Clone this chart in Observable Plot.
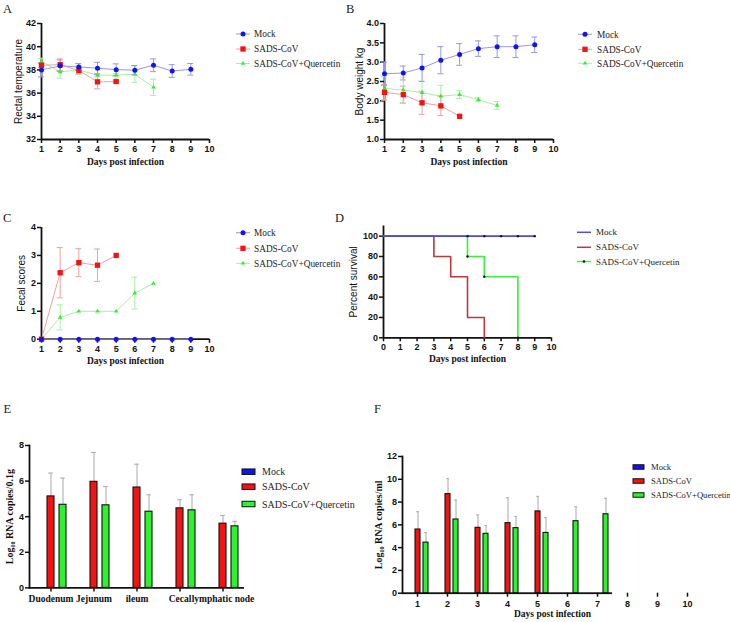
<!DOCTYPE html>
<html><head><meta charset="utf-8">
<script src="https://cdn.jsdelivr.net/npm/d3@7"></script>
<script src="https://cdn.jsdelivr.net/npm/@observablehq/plot@0.6"></script>
<style>
body{margin:0;background:#fff;overflow:hidden}
#fig{position:relative;width:730px;height:622px;overflow:hidden;background:#fff}
.panel{position:absolute}
</style>
</head><body><div id="fig"></div>
<script>
// ---------- DATA ----------
const groups = ["Mock", "SADS-CoV", "SADS-CoV+Quercetin"];
const days = [1, 2, 3, 4, 5, 6, 7, 8, 9];
const xTicks = [1, 2, 3, 4, 5, 6, 7, 8, 9, 10];

// A: rectal temperature (mean, SD)
const tempMock = [38.0, 38.35, 38.25, 38.15, 38.02, 37.98, 38.4, 37.9, 38.05];
const tempMockSd = [0.6, 0.5, 0.3, 0.5, 0.5, 0.4, 0.55, 0.55, 0.5];
const tempSads = [38.4, 38.45, 37.95, 36.97, 37.0];
const tempSadsSd = [0.2, 0.5, 0.3, 0.6, 0.1];
const tempQuer = [38.75, 37.83, 38.0, 37.55, 37.55, 37.63, 36.5];
const tempQuerSd = [0.25, 0.55, 0.4, 0.15, 0.15, 0.7, 0.7];
const tempTicks = [32, 34, 36, 38, 40, 42];

// B: body weight kg
const weightMock = [2.70, 2.72, 2.85, 3.05, 3.20, 3.35, 3.40, 3.40, 3.45];
const weightMockSd = [0.3, 0.18, 0.35, 0.35, 0.28, 0.2, 0.28, 0.28, 0.2];
const weightSads = [2.22, 2.16, 1.95, 1.87, 1.60];
const weightSadsSd = [0.2, 0.22, 0.3, 0.25, 0];
const weightQuer = [2.32, 2.28, 2.21, 2.12, 2.16, 2.03, 1.88];
const weightQuerSd = [0.3, 0.33, 0.3, 0.28, 0.1, 0.05, 0.1];
const weightTicks = [1.0, 1.5, 2.0, 2.5, 3.0, 3.5, 4.0];

// C: fecal scores
const fecalMock = [0, 0, 0, 0, 0, 0, 0, 0, 0];
const fecalMockSd = [0, 0, 0, 0, 0, 0, 0, 0, 0];
const fecalSads = [0, 2.38, 2.74, 2.65, 3.0];
const fecalSadsSd = [0, 0.9, 0.5, 0.58, 0];
const fecalQuer = [0, 0.78, 1.0, 1.0, 1.0, 1.65, 2.0];
const fecalQuerSd = [0, 0.45, 0, 0, 0, 0.57, 0];
const fecalTicks = [0, 1, 2, 3, 4];

// D: percent survival
const survMockDays = [0, 9];
const survMockPct = [100, 100];
const survMockCensor = [5, 6, 7, 8, 9];
const survSadsDays = [0, 3, 4, 5, 6];
const survSadsPct = [100, 80, 60, 20, 0];
const survQuerDays = [0, 5, 6, 8];
const survQuerPct = [100, 80, 60, 0];
const survQuerMarkDays = [5, 6, 8];
const survQuerMarkPct = [80, 60, 0];
const survXTicks = [0, 1, 2, 3, 4, 5, 6, 7, 8, 9, 10];
const survYTicks = [0, 20, 40, 60, 80, 100];

// E: tissue RNA (log10 copies/0.1g)
const tissues = ["Duodenum", "Jejunum", "ileum", "Cecal", "lymphatic node"];
const tissueSads = [5.14, 5.96, 5.64, 4.47, 3.61];
const tissueSadsSd = [1.31, 1.65, 1.31, 0.48, 0.46];
const tissueQuer = [4.67, 4.64, 4.28, 4.36, 3.46];
const tissueQuerSd = [1.50, 1.06, 0.95, 0.87, 0.28];
const tissueTicks = [0, 2, 4, 6, 8];

// F: fecal swab RNA (log10 copies/ml)
const swabDays = [1, 2, 3, 4, 5, 6, 7, 8, 9, 10];
const swabSads = [5.59, 8.70, 5.74, 6.15, 7.18];
const swabSadsSd = [1.56, 1.36, 1.14, 2.23, 1.32];
const swabQuer = [4.44, 6.47, 5.21, 5.71, 5.29, 6.32, 6.93];
const swabQuerSd = [0.88, 1.71, 0.73, 1.03, 1.36, 1.27, 1.40];
const swabTicks = [0, 2, 4, 6, 8, 10, 12];

// ---------- STYLE ----------
const SANS = "'Liberation Sans', Arial, sans-serif";
const SERIF = "'Liberation Serif', 'Times New Roman', serif";
const INK = "#111";
const baseStyle = {fontFamily: SANS, fontSize: "9px", color: INK, background: "transparent", overflow: "visible"};
const colMock = "#1212f5", colSads = "#f51212", colQuer = "#2ef22e";
const lightMock = "#9898e0", lightSads = "#eea2a2", lightQuer = "#a6f0a6";
const survCol = ["#5050c4", "#b83a3a", "#3eee3e"];
const errGrey = "#a8a8a8";
const axisLine = {stroke: INK, strokeWidth: 1.8};
const intFmt = d3.format("d");
const tickOpts = {tickSize: 4, strokeWidth: 1.5, fontWeight: "bold", fontSize: 9, label: null};

const fig = document.getElementById("fig");
function place(node, left, top) {
  const d = document.createElement("div");
  d.className = "panel"; d.style.left = left + "px"; d.style.top = top + "px";
  d.appendChild(node); fig.appendChild(d);
}
function rowsOf(values, sds) { return values.map((v, i) => ({day: days[i], value: v, sd: sds[i]})); }

function lineChart({width, height, mt, mb, ml, mr, yDomain, yTicks, yFormat, yLabel, yLabelDx, series}) {
  const marks = [
    Plot.ruleY([yDomain[0]], axisLine),
    Plot.ruleX([1], axisLine),
    Plot.axisX({...tickOpts, ticks: xTicks, tickPadding: 2, tickFormat: intFmt}),
    Plot.axisY({...tickOpts, ticks: yTicks, tickPadding: 1.5, tickFormat: yFormat}),
    Plot.text(["Days post infection"], {frameAnchor: "bottom", dy: 25, fontFamily: SERIF, fontWeight: "bold", fontSize: 9.5, fill: INK}),
    Plot.text([yLabel], {frameAnchor: "left", textAnchor: "middle", rotate: -90, dx: yLabelDx, fontSize: 10, fill: INK})
  ];
  for (const s of series) {
    const rows = rowsOf(s.values, s.sds);
    const withErr = rows.filter(d => d.sd > 0);
    marks.push(
      Plot.line(rows, {x: "day", y: "value", stroke: s.light, strokeWidth: 1}),
      Plot.ruleX(withErr, {x: "day", y1: d => d.value - d.sd, y2: d => d.value + d.sd, stroke: s.light, strokeWidth: 1}),
      Plot.ruleY(withErr, {x1: "day", x2: "day", y: d => d.value + d.sd, insetLeft: -3, insetRight: -3, stroke: s.light, strokeWidth: 1}),
      Plot.ruleY(withErr, {x1: "day", x2: "day", y: d => d.value - d.sd, insetLeft: -3, insetRight: -3, stroke: s.light, strokeWidth: 1})
    );
  }
  for (const s of series) {
    marks.push(Plot.dot(rowsOf(s.values, s.sds), {x: "day", y: "value", symbol: s.symbol, r: s.r, fill: s.color}));
  }
  return Plot.plot({
    width, height, marginTop: mt, marginBottom: mb, marginLeft: ml, marginRight: mr,
    x: {domain: [1, 10]}, y: {domain: yDomain}, style: baseStyle, marks
  });
}
function seriesSet(m, ms, s, ss, q, qs) {
  return [
    {values: q, sds: qs, color: colQuer, light: lightQuer, symbol: "triangle", r: 1.7},
    {values: s, sds: ss, color: colSads, light: lightSads, symbol: "square", r: 3},
    {values: m, sds: ms, color: colMock, light: lightMock, symbol: "circle", r: 2.5}
  ];
}

// A
place(lineChart({width: 340, height: 175, mt: 23, mb: 36, ml: 41, mr: 131,
  yDomain: [32, 42], yTicks: tempTicks, yFormat: intFmt, yLabel: "Rectal temperature", yLabelDx: -23,
  series: seriesSet(tempMock, tempMockSd, tempSads, tempSadsSd, tempQuer, tempQuerSd)}), 0, 0);
// B
place(lineChart({width: 390, height: 175, mt: 23, mb: 36, ml: 44, mr: 177,
  yDomain: [1, 4], yTicks: weightTicks, yFormat: d3.format(".1f"), yLabel: "Body weight kg", yLabelDx: -25,
  series: seriesSet(weightMock, weightMockSd, weightSads, weightSadsSd, weightQuer, weightQuerSd)}), 340, 0);
// C
place(lineChart({width: 340, height: 180, mt: 27, mb: 41.3, ml: 41, mr: 131,
  yDomain: [0, 4], yTicks: fecalTicks, yFormat: intFmt, yLabel: "Fecal scores", yLabelDx: -20,
  series: seriesSet(fecalMock, fecalMockSd, fecalSads, fecalSadsSd, fecalQuer, fecalQuerSd)}), 0, 200);

// D survival
const survRows = (ds, ps) => ds.map((d, i) => ({day: d, pct: ps[i]}));
place(Plot.plot({
  width: 390, height: 180, marginTop: 25.5, marginBottom: 42.7, marginLeft: 43, marginRight: 179,
  x: {domain: [0, 10]}, y: {domain: [0, 110]}, style: baseStyle,
  marks: [
    Plot.ruleY([0], axisLine), Plot.ruleX([0], axisLine),
    Plot.axisX({...tickOpts, ticks: survXTicks, tickPadding: 2, tickFormat: intFmt}),
    Plot.axisY({...tickOpts, ticks: survYTicks, tickPadding: 1.5, tickFormat: intFmt}),
    Plot.text(["Days post infection"], {frameAnchor: "bottom", dy: 24, fontFamily: SERIF, fontWeight: "bold", fontSize: 9.5, fill: INK}),
    Plot.text(["Percent survival"], {frameAnchor: "left", textAnchor: "middle", rotate: -90, dx: -29.5, fontSize: 10, fill: INK}),
    Plot.line(survRows(survQuerDays, survQuerPct), {x: "day", y: "pct", curve: "step-after", stroke: survCol[2], strokeWidth: 1.6}),
    Plot.line(survRows(survSadsDays, survSadsPct), {x: "day", y: "pct", curve: "step-after", stroke: survCol[1], strokeWidth: 1.6}),
    Plot.line(survRows(survMockDays, survMockPct), {x: "day", y: "pct", curve: "step-after", stroke: survCol[0], strokeWidth: 1.6}),
    Plot.dot(survRows(survQuerMarkDays, survQuerMarkPct), {x: "day", y: "pct", r: 1.2, fill: INK}),
    Plot.dot(survMockCensor, {x: d => d, y: () => 100, r: 1.2, fill: INK})
  ]
}), 340, 200);

// E / F grouped bars
function barRows(cats, values, sds, group) { return values.map((v, i) => ({cat: cats[i], group, value: v, sd: sds[i]})); }
function barChart({width, height, mt, mb, ml, mr, cats, rows, yDomain, yTicks, yLabel, yLabelDx, catFont, xTitle, pi, po}) {
  const marks = [
    Plot.frame({anchor: "left", facetAnchor: "left", stroke: INK, strokeWidth: 1.8}),
    Plot.ruleY([0], axisLine),
    Plot.axisY({...tickOpts, ticks: yTicks, tickPadding: 1.5, tickFormat: intFmt}),
    Plot.axisFx({anchor: "bottom", tickSize: 4, tickPadding: 3, strokeWidth: 1.5, label: null, ...catFont}),
    Plot.ruleX(rows, {fx: "cat", x: "group", y1: "value", y2: d => d.value + d.sd, stroke: errGrey, strokeWidth: 1}),
    Plot.tickY(rows, {fx: "cat", x: "group", y: d => d.value + d.sd, stroke: errGrey, strokeWidth: 1, insetLeft: 1.2, insetRight: 1.2}),
    Plot.barY(rows, {fx: "cat", x: "group", y: "value", fill: "group", stroke: INK, strokeWidth: 1.1}),
    Plot.text([yLabel], {facet: "super", frameAnchor: "left", textAnchor: "middle", rotate: -90, dx: yLabelDx, fontFamily: SERIF, fontWeight: "bold", fontSize: 10, fill: INK})
  ];
  if (xTitle) marks.push(Plot.text([xTitle], {facet: "super", frameAnchor: "bottom", dy: 24, fontFamily: SERIF, fontWeight: "bold", fontSize: 9.5, fill: INK}));
  return Plot.plot({
    width, height, marginTop: mt, marginBottom: mb, marginLeft: ml, marginRight: mr,
    fx: {domain: cats, padding: 0, label: null},
    x: {domain: groups, paddingInner: pi, paddingOuter: po, axis: null},
    y: {domain: yDomain},
    color: {domain: groups, range: [colMock, colSads, colQuer]},
    style: baseStyle, marks
  });
}
place(barChart({width: 340, height: 222, mt: 45, mb: 34.6, ml: 29, mr: 96, cats: tissues,
  rows: [...barRows(tissues, tissueSads, tissueSadsSd, groups[1]), ...barRows(tissues, tissueQuer, tissueQuerSd, groups[2])],
  yDomain: [0, 8], yTicks: tissueTicks, yLabel: "Log\u2081\u2080 RNA copies/0.1g", yLabelDx: -19.5,
  catFont: {fontFamily: SERIF, fontWeight: "bold", fontSize: 9.5}, pi: 0.42, po: 0.5}), 0, 400);
place(barChart({width: 390, height: 222, mt: 56, mb: 29.3, ml: 61, mr: 28, cats: swabDays,
  rows: [...barRows(swabDays, swabSads, swabSadsSd, groups[1]), ...barRows(swabDays, swabQuer, swabQuerSd, groups[2])],
  yDomain: [0, 12], yTicks: swabTicks, yLabel: "Log\u2081\u2080 RNA copies/ml", yLabelDx: -24,
  catFont: {fontWeight: "bold", fontSize: 9}, xTitle: "Days post infection", pi: 0.4, po: 0.52}), 340, 400);

// ---------- letters & legends overlay ----------
const ov = d3.select("#fig").append("svg").attr("width", 730).attr("height", 622)
  .style("position", "absolute").style("left", 0).style("top", 0).style("pointer-events", "none");
const letters = [["A", 3, 13.3], ["B", 346, 13.3], ["C", 3, 221.7], ["D", 335, 221.7], ["E", 3.5, 413.3], ["F", 374, 413]];
for (const [t, x, y] of letters) ov.append("text").attr("x", x).attr("y", y).attr("font-family", SERIF).attr("font-size", 12.5).attr("fill", "#222").text(t);

const symInfo = [
  {light: lightMock, color: colMock, sym: d3.symbolCircle, r: 2.5},
  {light: lightSads, color: colSads, sym: d3.symbolSquare, r: 3},
  {light: lightQuer, color: colQuer, sym: d3.symbolTriangle, r: 1.7}
];
function lineLegend(x1, x2, tx, ys, fs) {
  groups.forEach((g, i) => {
    const s = symInfo[i], y = ys[i];
    ov.append("line").attr("x1", x1).attr("x2", x2).attr("y1", y).attr("y2", y).attr("stroke", s.light).attr("stroke-width", 1);
    ov.append("path").attr("transform", `translate(${(x1 + x2) / 2},${y})`).attr("d", d3.symbol(s.sym, Math.PI * s.r * s.r)()).attr("fill", s.color);
    ov.append("text").attr("x", tx).attr("y", y).attr("dy", "0.35em").attr("font-family", SERIF).attr("font-size", fs).attr("fill", "#222").text(g);
  });
}
lineLegend(236, 250, 254, [34, 49, 63.5], 9.3);
lineLegend(578, 592, 597, [34.3, 49.3, 63.3], 9.3);
lineLegend(236, 250, 254, [232.7, 248.3, 263.3], 9.3);
// D legend
[232.3, 247.3, 261.5].forEach((y, i) => {
  ov.append("line").attr("x1", 577).attr("x2", 591).attr("y1", y).attr("y2", y).attr("stroke", survCol[i]).attr("stroke-width", 1.5);
  if (i === 2) ov.append("circle").attr("cx", 584).attr("cy", y).attr("r", 1.2).attr("fill", INK);
  ov.append("text").attr("x", 596).attr("y", y).attr("dy", "0.35em").attr("font-family", SERIF).attr("font-size", 9).attr("fill", "#222").text(groups[i]);
});
function boxLegend(x, w, h, tx, ys, fs) {
  const cols = [colMock, colSads, colQuer];
  ys.forEach((y, i) => {
    ov.append("rect").attr("x", x).attr("y", y - h / 2).attr("width", w).attr("height", h).attr("fill", cols[i]).attr("stroke", INK).attr("stroke-width", 1);
    ov.append("text").attr("x", tx).attr("y", y).attr("dy", "0.35em").attr("font-family", SERIF).attr("font-size", fs).attr("fill", "#222").text(groups[i]);
  });
}
boxLegend(242, 13, 5.5, 262, [471.7, 486.7, 504], 10);
boxLegend(633, 11, 4.5, 651, [467, 481, 495], 8.6);
</script></body></html>
